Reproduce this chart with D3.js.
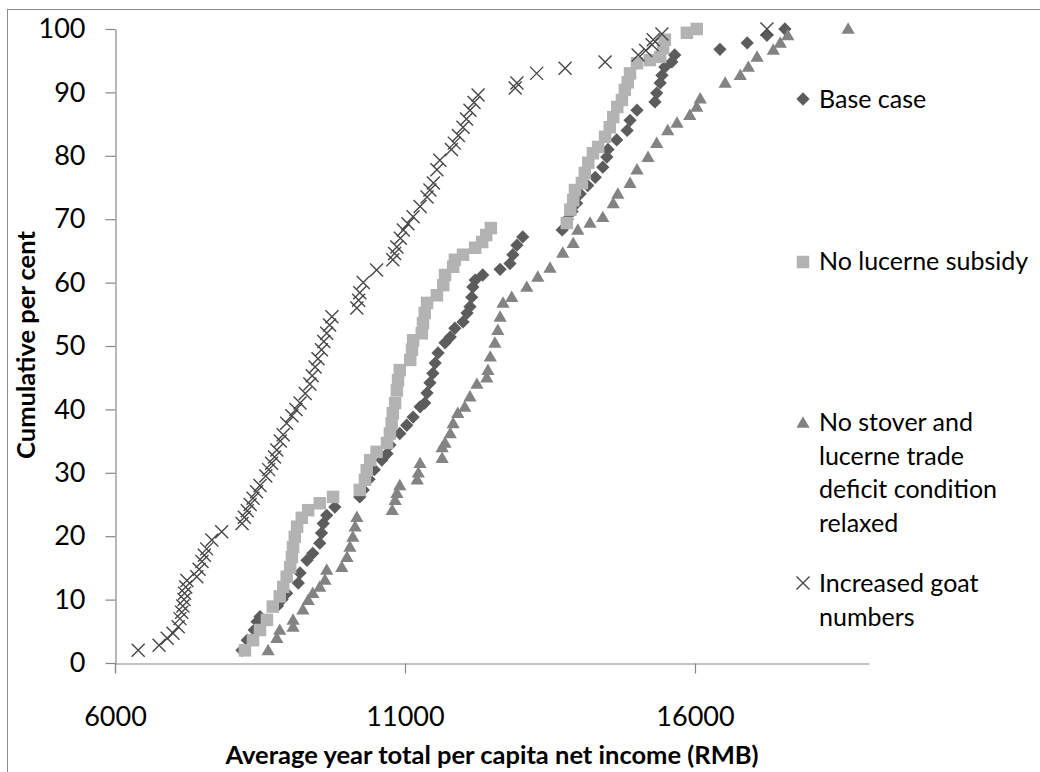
<!DOCTYPE html>
<html><head><meta charset="utf-8">
<script src="https://cdn.jsdelivr.net/npm/d3@7"></script>
<style>
html,body{margin:0;padding:0;background:#fff;}
svg{display:block;font-family:Lato,"Open Sans",sans-serif;}
</style></head>
<body>
<svg id="chart" width="1040" height="772"></svg>
<script>
// ---- data ----
const seriesNames = ["Base case", "No lucerne subsidy", "No stover and lucerne trade deficit condition relaxed", "Increased goat numbers"];
const xTicks = [6000, 11000, 16000];
const yTicks = [0,10,20,30,40,50,60,70,80,90,100];

const basePct = [2,3.6,5.2,6.5,7.3,9,10,11,12.6,14.2,16.2,17.3,18.9,20.5,22,23.3,24.6,26.2,27.3,29,30.5,32,33,34.4,36.2,37.5,38.8,40.4,41,42.6,44.2,45.7,47.3,48.9,50.5,51.4,52.8,53.8,55.2,56.2,57.7,59.3,60.4,61.2,62.1,63,64.4,65.9,67.2,68.3,70,71.2,72.5,74,75.3,76.6,78.2,79.8,81,82.5,84,85.6,87.2,88.5,89.9,91.5,92.7,94,94.8,95.9,96.8,97.8,99,100];
const baseIncome = [8190,8280,8400,8450,8500,8800,8880,8960,9160,9190,9310,9410,9530,9560,9590,9650,9790,10220,10280,10380,10470,10600,10690,10740,10910,11030,11140,11260,11340,11380,11430,11480,11520,11570,11690,11780,11860,12000,12070,12120,12150,12170,12210,12340,12640,12810,12860,12930,13030,13710,13800,13880,13960,14020,14150,14280,14410,14480,14500,14650,14830,14880,15000,15310,15340,15400,15430,15480,15600,15650,16430,16900,17240,17550];

const noSubPct = [2,3.6,5.2,6.8,8.9,10.5,12,13.6,15.1,16.7,18.3,19.9,21.5,22.9,24.1,25.2,26.2,27.3,28.9,30.4,32,33.3,34.7,36.2,37.8,39.4,41,43,44.6,46.2,47.8,49.4,50.9,52,53.6,55.2,56.8,58,59.6,61.2,62.5,63.6,64.4,65.5,66.4,67.5,68.6,69.4,71.5,73,74.6,75.7,77.3,78.9,80.4,81.4,83,84.5,86.1,87.7,88.8,90.4,91.6,93,94.6,95.1,95.6,97,98.3,99.4,100];
const noSubIncome = [8240,8380,8500,8620,8720,8840,8900,8960,9020,9050,9070,9100,9140,9220,9330,9530,9760,10220,10310,10340,10400,10510,10690,10740,10770,10790,10830,10860,10880,10910,11090,11120,11140,11290,11310,11340,11380,11550,11660,11690,11830,11860,12000,12210,12330,12400,12480,13790,13850,13900,13930,14050,14100,14160,14240,14330,14450,14530,14590,14660,14740,14790,14840,14880,15000,15220,15400,15450,15480,15860,16030];

const noTradePct = [2,3.9,5.2,5.7,6.8,8.4,9.9,11,12,13.1,14.7,15.1,16.7,18.3,19.9,21.5,23,24.1,25.7,26.8,28,28.9,30,31.5,32.3,34,34.7,36.2,37.8,39.4,40.4,42,44,45,46.2,48.3,50.5,52.5,54.6,56.8,57.7,59.3,60.9,62.3,64.7,66.2,68.3,69.4,70.3,72.5,74,75.7,77.8,79.8,82,84,85.2,86.4,87.7,89,91.5,92.7,94,95.6,96.7,97.8,99,100];
const noTradeIncome = [8640,8790,8840,9070,9070,9240,9330,9410,9530,9620,9650,9910,10000,10050,10100,10140,10170,10780,10830,10860,10910,11210,11230,11260,11640,11640,11690,11780,11830,11910,12030,12120,12240,12410,12430,12470,12550,12600,12640,12690,12840,13100,13290,13500,13720,13900,13980,14190,14410,14590,14670,14880,15000,15190,15340,15530,15690,15910,16030,16090,16520,16780,16920,17070,17350,17470,17600,18640];

const goatPct = [2,2.8,3.9,4.7,5.7,7,8,9,10,11,12,13,13.6,14.8,16,17,18,19.4,20.7,22,23,24,25,26,27,28,29.5,30.5,31.5,32.5,33.6,35,36,37.8,39,40,41,42.5,44,45.3,46.7,48,49.4,50.7,52,53.3,54.6,56,57.2,58.4,60,62,63.6,64.6,65.6,67,68.3,69.3,70.4,72,73.5,74.6,75.7,77.8,79.3,81,82,83.2,84.5,85.8,87.2,88.4,89.6,90.7,91.5,93,93.8,94.8,95.9,96.6,97.5,98.3,99.2,100];
const goatIncome = [6400,6760,6900,7000,7090,7120,7150,7170,7190,7200,7220,7240,7410,7450,7500,7540,7580,7670,7840,8190,8230,8280,8330,8380,8440,8500,8600,8650,8700,8750,8790,8850,8900,8960,9050,9120,9190,9280,9360,9400,9450,9500,9560,9600,9650,9700,9740,10170,10200,10220,10280,10510,10790,10820,10860,10920,10970,11050,11140,11260,11380,11430,11490,11550,11600,11800,11850,11920,12000,12060,12120,12190,12260,12900,12930,13270,13760,14450,15020,15150,15260,15280,15430,17240];

// ---- layout ----
const svg = d3.select("#chart");
const W = 1040, H = 772;
const plot = {left:115, right:869, top:29, bottom:663};
const axisColor = "#868686";

svg.append("rect").attr("x",0).attr("y",0).attr("width",W).attr("height",H).attr("fill","#fff");
svg.append("rect").attr("x",7.5).attr("y",9.5).attr("width",1040).attr("height",780)
   .attr("fill","none").attr("stroke","#8c8c8c").attr("stroke-width",1);

const x = d3.scaleLinear().domain([6000,19000]).range([plot.left, plot.right]);
const y = d3.scaleLinear().domain([0,100]).range([plot.bottom, plot.top]);

// axes
const xAxis = d3.axisBottom(x).tickValues(xTicks).tickSize(10).tickSizeOuter(0).tickPadding(33).tickFormat(d3.format("d"));
const yAxis = d3.axisLeft(y).tickValues(yTicks).tickSize(10).tickSizeOuter(0).tickPadding(20).tickFormat(d3.format("d"));

const gx = svg.append("g").attr("transform",`translate(0,${plot.bottom+0.5})`).call(xAxis);
const gy = svg.append("g").attr("transform",`translate(${plot.left+0.5},0)`).call(yAxis);
[gx,gy].forEach(g=>{
  g.selectAll("path,line").attr("stroke",axisColor).attr("stroke-width",1.2);
  g.selectAll("text").attr("fill","#000").attr("font-size","27px").attr("font-family","Lato");
});
// extend the y axis down to the x tick at the origin
svg.append("line").attr("x1",plot.left+0.5).attr("x2",plot.left+0.5).attr("y1",plot.bottom).attr("y2",plot.bottom+10)
   .attr("stroke",axisColor).attr("stroke-width",1.2);

// axis titles
svg.append("text").attr("x",492).attr("y",764).attr("text-anchor","middle")
   .attr("font-weight","bold").attr("font-size","25.5px").attr("fill","#000")
   .text("Average year total per capita net income (RMB)");
svg.append("text").attr("transform","translate(35,345) rotate(-90)").attr("text-anchor","middle")
   .attr("font-weight","bold").attr("font-size","25.5px").attr("fill","#000")
   .text("Cumulative per cent");

// marker definitions
const styles = [
  {type:"diamond", fill:"#5c5c5c"},
  {type:"square", fill:"#b3b3b3"},
  {type:"triangle", fill:"#838383"},
  {type:"x", stroke:"#474747"}
];
function marker(g, st){
  if(st.type==="diamond"){
    g.append("path").attr("d", d3.symbol().type(d3.symbolSquare).size(88)()).attr("transform","rotate(45)")
     .attr("fill",st.fill);
  } else if(st.type==="square"){
    g.append("path").attr("d", d3.symbol().type(d3.symbolSquare).size(156)()).attr("fill",st.fill);
  } else if(st.type==="triangle"){
    g.append("path").attr("d", d3.symbol().type(d3.symbolTriangle).size(76)()).attr("transform","translate(0,1)").attr("fill",st.fill);
  } else {
    g.append("path").attr("d", d3.symbol().type(d3.symbolX).size(112)()).attr("fill","none")
     .attr("stroke",st.stroke).attr("stroke-width",1.4);
  }
}

const seriesData = [
  d3.zip(baseIncome, basePct),
  d3.zip(noSubIncome, noSubPct),
  d3.zip(noTradeIncome, noTradePct),
  d3.zip(goatIncome, goatPct)
];

// draw in order so that later series overlay earlier ones
[0,1,2,3].forEach(i=>{
  const g = svg.append("g");
  g.selectAll("g").data(seriesData[i]).join("g")
    .attr("transform", d=>`translate(${x(d[0])},${y(d[1])})`)
    .each(function(){ marker(d3.select(this), styles[i]); });
});

// legend
const legend = [
  {marker:99, lines:["Base case"], base:108},
  {marker:262, lines:["No lucerne subsidy"], base:270},
  {marker:423, lines:["No stover and","lucerne trade","deficit condition","relaxed"], base:431},
  {marker:583, lines:["Increased goat","numbers"], base:592}
];
legend.forEach((L,i)=>{
  const mg = svg.append("g").attr("transform",`translate(803,${L.marker})`);
  marker(mg, styles[i]);
  const t = svg.append("text").attr("x",819).attr("y",L.base).attr("font-size","25px").attr("fill","#000");
  L.lines.forEach((s,j)=>{
    t.append("tspan").attr("x",819).attr("y",L.base + j*33.7).text(s);
  });
});
</script>
</body></html>
